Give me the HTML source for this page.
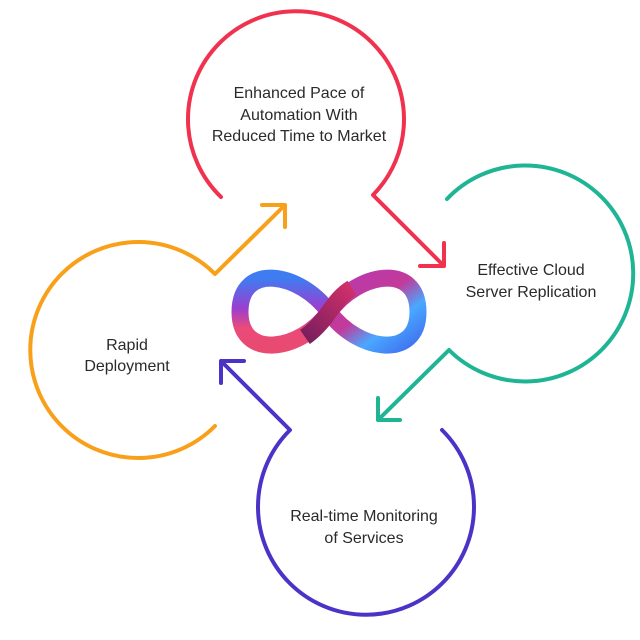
<!DOCTYPE html>
<html><head><meta charset="utf-8"><style>
html,body{margin:0;padding:0;background:#fff;}
svg{display:block}
text{font-family:"Liberation Sans",sans-serif;font-size:16px;fill:#2a2a2a;text-anchor:middle}
</style></head><body>
<svg width="640" height="640" viewBox="0 0 640 640">
<defs>
<linearGradient id="gl" x1="0" y1="0" x2="0" y2="1">
<stop offset="0" stop-color="#3f7cf2"/><stop offset="0.45" stop-color="#9a3fd0"/><stop offset="0.75" stop-color="#ec4a78"/><stop offset="1" stop-color="#e84a72"/>
</linearGradient>
<linearGradient id="gr" x1="0" y1="0" x2="1" y2="1">
<stop offset="0" stop-color="#b83ab0"/><stop offset="0.45" stop-color="#c23a9a"/><stop offset="0.7" stop-color="#4aa8ff"/><stop offset="1" stop-color="#3f70f0"/>
</linearGradient>
<linearGradient id="gc" x1="0" y1="1" x2="1" y2="0">
<stop offset="0" stop-color="#7a1e5e"/><stop offset="1" stop-color="#d0306a"/>
</linearGradient>
</defs>
<g fill="none" stroke-width="4" stroke-linecap="round" stroke-linejoin="round">
<path d="M221,197 A108,108 0 1 1 373,195 L444,266 M420,266 L444,266 L444,243" stroke="#f0324f"/>
<path d="M447,199 A108,108 0 1 1 449,350 L378,420 M400,420 L378,420 L378,398" stroke="#1fb594"/>
<path d="M442,430 A108,108 0 1 1 290,430 L221,361 M244,361 L221,361 L221,383" stroke="#4a34c8"/>
<path d="M215,426 A108,108 0 1 1 215,274 L285,205 M262,205 L285,205 L285,227" stroke="#f8a01a"/>
</g>
<g fill="none" stroke-width="17">
<path d="M329,312 C358,272 418,262 418,312 C418,360 358,352 329,312" stroke="url(#gr)"/>
<path d="M329,312 C300,272 240,262 240,312 C240,360 300,352 329,312" stroke="url(#gl)"/>
<path d="M305,337 C315,330 322,322 329,312 C336,302 342,294 352,288" stroke="url(#gc)"/>
</g>
<text x="299" y="98">Enhanced Pace of</text>
<text x="299" y="120">Automation With</text>
<text x="299" y="141">Reduced Time to Market</text>
<text x="531" y="275">Effective Cloud</text>
<text x="531" y="297">Server Replication</text>
<text x="127" y="350">Rapid</text>
<text x="127" y="371">Deployment</text>
<text x="364" y="521">Real-time Monitoring</text>
<text x="364" y="543">of Services</text>
</svg>
</body></html>
